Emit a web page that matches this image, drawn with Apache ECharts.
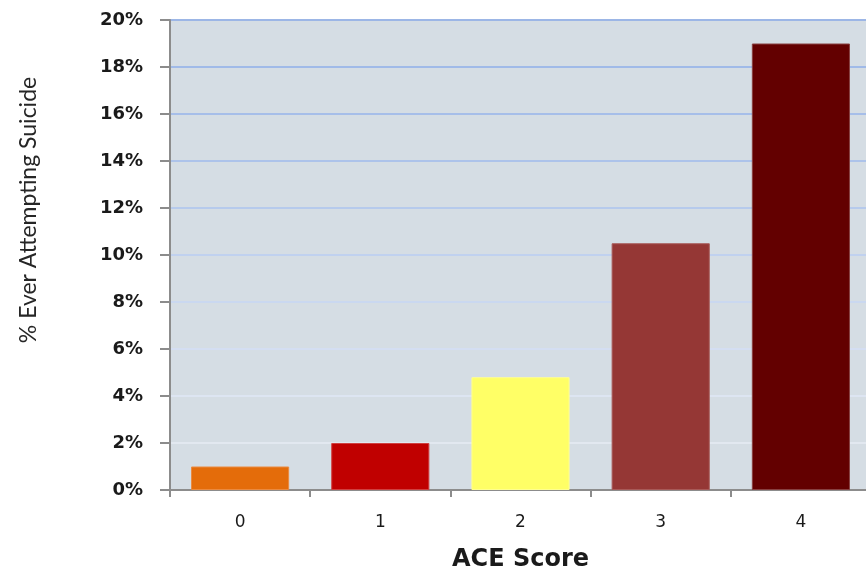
<!DOCTYPE html>
<html>
<head>
<meta charset="utf-8">
<script src="https://cdn.jsdelivr.net/npm/echarts@6/dist/echarts.min.js"></script>
<style>
  html, body { margin: 0; padding: 0; background: #ffffff; }
  #chart { width: 866px; height: 573px; }
</style>
</head>
<body>
<div id="chart"></div>
<script>
// ACE score categories and share of respondents ever attempting suicide (%)
const categories = ['0', '1', '2', '3', '4'];
const attemptPct = [1.0, 2.0, 4.8, 10.5, 19.0];
const barColors = ['#e46c0a', '#c00000', '#ffff66', '#953735', '#630000'];
const barBorders = ['#ea8a40', '#d04040', '#ffff90', '#a85a58', '#884040'];

// gridline tints from the 0% line upward: fading from near-white to blue
const gridColors = ['#d4dde4', '#e2e8f0', '#dde5f2', '#d4def2', '#cad8f0', '#c0d1ef',
                    '#b6caec', '#adc3ea', '#a6bee9', '#a0bae8', '#9cb6e6'];

const chart = echarts.init(document.getElementById('chart'));
chart.setOption({
  animation: false,
  grid: {
    left: 170, top: 20, width: 701, height: 470,
    outerBoundsMode: 'none', containLabel: false,
    backgroundColor: '#d5dde4', show: true, borderWidth: 0
  },
  xAxis: {
    type: 'category',
    data: categories,
    boundaryGap: true,
    name: 'ACE Score',
    nameLocation: 'middle',
    nameGap: 58,
    nameTextStyle: { fontFamily: 'DejaVu Sans', fontWeight: 'bold', fontSize: 24, color: '#1a1a1a' },
    axisLine: { lineStyle: { color: '#8c8c8c', width: 2 } },
    axisTick: { show: true, length: 7, lineStyle: { color: '#8c8c8c', width: 2 } },
    axisLabel: { fontFamily: 'DejaVu Sans', fontSize: 17, color: '#1a1a1a', margin: 24 }
  },
  yAxis: {
    type: 'value',
    min: 0,
    max: 20,
    interval: 2,
    axisLine: { show: true, lineStyle: { color: '#8c8c8c', width: 2 } },
    axisTick: { show: true, inside: false, length: 10, lineStyle: { color: '#8c8c8c', width: 2 } },
    axisLabel: {
      fontFamily: 'DejaVu Sans', fontWeight: 'bold', fontSize: 18, color: '#1a1a1a', margin: 27,
      formatter: v => v + '%'
    },
    splitLine: { show: true, lineStyle: { color: gridColors, width: 2 } }
  },
  graphic: [{
    type: 'text',
    x: 29,
    y: 210,
    rotation: Math.PI / 2,
    style: {
      text: '% Ever Attempting Suicide',
      fontFamily: 'Lato',
      fontSize: 23,
      fill: '#262626',
      align: 'center',
      verticalAlign: 'middle'
    }
  }],
  series: [{
    type: 'bar',
    barWidth: '70%',
    data: attemptPct.map((v, i) => ({
      value: v,
      itemStyle: { color: barColors[i], borderColor: barBorders[i], borderWidth: 1 }
    }))
  }]
});
</script>
</body>
</html>
